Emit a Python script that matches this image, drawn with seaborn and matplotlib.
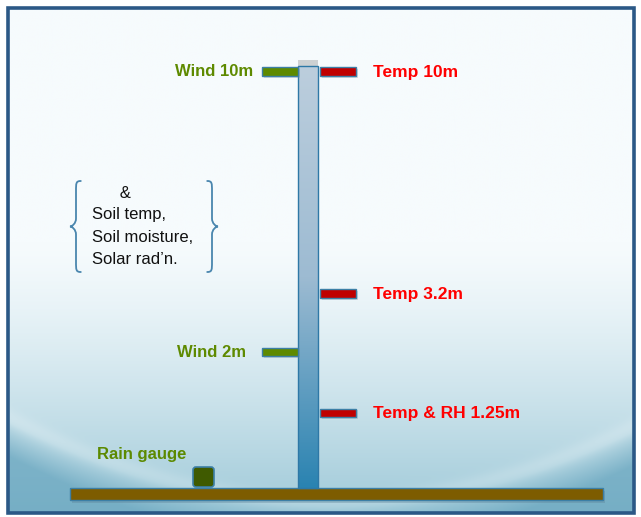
import numpy as np
import matplotlib
matplotlib.use("Agg")
import matplotlib.pyplot as plt
import seaborn as sns
from matplotlib.patches import Rectangle, FancyBboxPatch, PathPatch
from matplotlib.path import Path
from matplotlib.colors import LinearSegmentedColormap

# ---- data (schematic sensor layout) ----
sensor_labels = ["Wind 10m", "Temp 10m", "Temp 3.2m", "Wind 2m", "Temp & RH 1.25m"]
sensor_kind = ["wind", "temp", "temp", "wind", "temp"]
sensor_level = [71.5, 71.5, 293.5, 352, 413]
brace_lines = ["      &", "Soil temp,", "Soil moisture,", "Solar rad\u2019n."]
gauge_label = "Rain gauge"

sns.set_theme(style="white")
plt.rcParams['font.family'] = ['Liberation Sans', 'DejaVu Sans']

W, H = 641, 517
fig = plt.figure(figsize=(W / 100, H / 100), dpi=100)
ax = fig.add_axes([0, 0, 1, 1])
ax.set_xlim(0, W)
ax.set_ylim(H, 0)
ax.axis("off")

# ---- background gradient ----
yy, xx = np.mgrid[0:H, 0:W].astype(float)
t = np.clip((yy - 240) / 273, 0, 1) ** 1.3
top = np.array([246, 251, 253]) / 255
bot = np.array([160, 202, 217]) / 255
img = top[None, None, :] * (1 - t[..., None]) + bot[None, None, :] * t[..., None]
# swoosh curve: darker below, light streak above
yc = 510 - 8e-4 * (xx - 330) ** 2
depth = np.clip((yy - yc) / 35, 0, 1) * 0.7
dark = np.array([100, 163, 189]) / 255
img = img * (1 - depth[..., None]) + dark[None, None, :] * depth[..., None]
streak = np.exp(-((yy - (yc - 6)) / 9) ** 2) * 0.18
img = img * (1 - streak[..., None]) + np.ones(3)[None, None, :] * streak[..., None]
ax.imshow(img, extent=[7, 634, 513, 7], aspect="auto", zorder=0, interpolation="bilinear")

# frame
ax.add_patch(Rectangle((7.5, 7.5), 626, 505, fill=False, edgecolor="#2B5886", lw=2.6, zorder=10))

# ---- ground ----
ax.add_patch(Rectangle((72, 491), 533, 12, facecolor="#5a7f95", alpha=0.35, lw=0, zorder=1))
ax.add_patch(Rectangle((70, 488), 533, 12, facecolor="#7D5C00", edgecolor="#3C7FA6", lw=1, zorder=2))

# ---- rain gauge ----
ax.add_patch(FancyBboxPatch((193, 467), 21, 20, boxstyle="round,pad=0,rounding_size=3",
                            facecolor="#3F5A00", edgecolor="#3C7FA6", lw=1.2, zorder=3))
ax.text(97, 455, gauge_label, color="#5C8A00", fontsize=12, fontweight="bold",
        ha="left", va="center", zorder=5)

# ---- pole ----
pole_cmap = LinearSegmentedColormap.from_list("pole", ["#BCCEDD", "#9DBBD2", "#2A83B1"])
grad = np.linspace(0, 1, 256)[:, None]
ax.add_patch(Rectangle((298, 60), 20, 8, facecolor="#555555", alpha=0.25, lw=0, zorder=2))
ax.imshow(grad, cmap=pole_cmap, extent=[298, 318, 488, 66], aspect="auto", zorder=3)
ax.add_patch(Rectangle((298, 66), 20, 422, fill=False, edgecolor="#2E78A6", lw=1, zorder=4))

# ---- sensor arms & labels ----
colors = {"wind": "#5E8A00", "temp": "#C00000"}
txtcol = {"wind": "#5E8A00", "temp": "#FF0000"}
for lab, kind, lev in zip(sensor_labels, sensor_kind, sensor_level):
    left = 262 if kind == "wind" else 320
    ax.barh(lev + 1.5, 36, left=left + 1.5, height=9, color="#7f8f99", alpha=0.3, lw=0, zorder=4)
    ax.barh(lev, 36, left=left, height=8.5, color=colors[kind], edgecolor="#3C7FA6", lw=1, zorder=5)
    if kind == "wind":
        xr = 253 if lev < 200 else 246
        ax.text(xr, lev + 0.5, lab, color=txtcol[kind], fontsize=12, fontweight="bold",
                ha="right", va="center", zorder=6)
    else:
        ax.text(373, lev + 0.5, lab, color=txtcol[kind], fontsize=12.5, fontweight="bold",
                ha="left", va="center", zorder=6)

# ---- brace text ----
line_y = [194, 215, 238, 260]
for s, y in zip(brace_lines, line_y):
    ax.text(92, y, s, color="#111111", fontsize=12, ha="left", va="center", zorder=6)


def brace(xs, y0, y1, w, d=1):
    """curly brace with vertical stem at xs; tip points toward -d"""
    ym = (y0 + y1) / 2
    xt = xs - d * w
    verts = [(xs + d * w * 0.8, y0),
             (xs, y0), (xs, y0 + 2), (xs, y0 + 10),
             (xs, ym - 8),
             (xs, ym - 3), (xt + d * 2, ym), (xt, ym),
             (xt + d * 2, ym), (xs, ym + 3), (xs, ym + 8),
             (xs, y1 - 10),
             (xs, y1 - 2), (xs, y1), (xs + d * w * 0.8, y1)]
    codes = [Path.MOVETO,
             Path.CURVE4, Path.CURVE4, Path.CURVE4,
             Path.LINETO,
             Path.CURVE4, Path.CURVE4, Path.CURVE4,
             Path.CURVE4, Path.CURVE4, Path.CURVE4,
             Path.LINETO,
             Path.CURVE4, Path.CURVE4, Path.CURVE4]
    ax.add_patch(PathPatch(Path(verts, codes), fill=False, edgecolor="#4A86AE", lw=1.3,
                           capstyle="round", zorder=6))


brace(76, 181, 272, 6, d=1)
brace(212, 181, 272, 6, d=-1)

fig.savefig("out.png", dpi=100)
